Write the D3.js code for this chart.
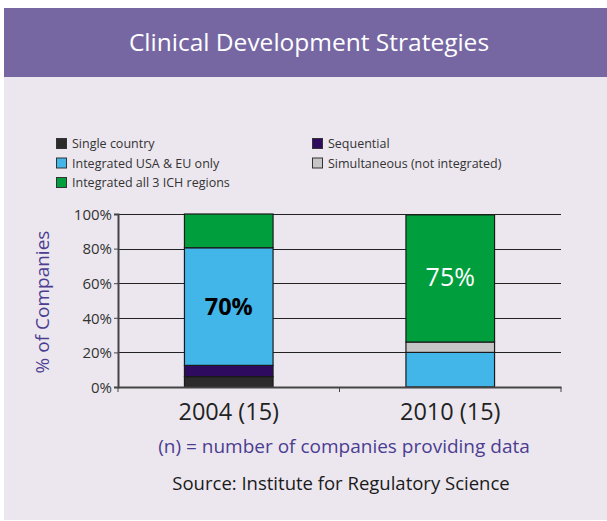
<!DOCTYPE html>
<html>
<head>
<meta charset="utf-8">
<script src="https://cdn.jsdelivr.net/npm/d3@7"></script>
<style>
  body { margin: 0; background: #fff; }
  svg text { font-family: "Open Sans", sans-serif; }
</style>
</head>
<body>
<div id="chart"></div>
<script>
// data (percent of companies)
var years = ["2004 (15)", "2010 (15)"];
var seriesNames = ["Single country", "Sequential", "Integrated USA & EU only",
                   "Simultaneous (not integrated)", "Integrated all 3 ICH regions"];
var seriesColors = ["#2b2b2b", "#2e0b5f", "#42b5e9", "#c6c6c6", "#009e3d"];
var single = [6, 0];
var sequential = [6.5, 0];
var usaEu = [68, 20];
var simultaneous = [0, 6];
var ich = [19.5, 73.5];
var barLabels = ["70%", "75%"];
var labelSeries = [2, 4];
var yTicks = [0, 20, 40, 60, 80, 100];

// legend layout order (two columns)
var legendOrder = [
  {i: 0, col: 0, row: 0}, {i: 2, col: 0, row: 1}, {i: 4, col: 0, row: 2},
  {i: 1, col: 1, row: 0}, {i: 3, col: 1, row: 1}
];

var W = 607, H = 521;
var svg = d3.select("#chart").append("svg")
    .attr("width", W).attr("height", H);

// panel and header band
svg.append("rect").attr("x", 4).attr("y", 8).attr("width", W - 4).attr("height", H - 9)
    .attr("fill", "#ece7ee");
svg.append("rect").attr("x", 4).attr("y", 8).attr("width", W - 4).attr("height", 69)
    .attr("fill", "#7667a3");
svg.append("text")
    .attr("x", 309).attr("y", 51)
    .attr("text-anchor", "middle")
    .attr("fill", "#fff")
    .style("font-size", "24.5px")
    .style("font-weight", 500)
    .text("Clinical Development Strategies");

// legend
var legend = svg.append("g").attr("transform", "translate(56,138)");
legendOrder.forEach(function(l) {
  var g = legend.append("g")
      .attr("transform", "translate(" + (l.col * 256) + "," + (l.row * 19.5) + ")");
  g.append("rect").attr("x", 0.5).attr("y", 0.5).attr("width", 10).attr("height", 10)
      .attr("fill", seriesColors[l.i]).attr("stroke", "#333").attr("stroke-width", 1);
  g.append("text").attr("x", 16).attr("y", 10)
      .attr("fill", "#333").style("font-size", "12.5px")
      .text(seriesNames[l.i]);
});

// plot area
var margin = {left: 118, right: 561, top: 214, bottom: 387};

var x = d3.scaleBand()
    .domain(years)
    .range([margin.left, margin.right])
    .padding(0);

var y = d3.scaleLinear()
    .domain([0, 100])
    .range([margin.bottom, margin.top]);

// gridlines
svg.append("g")
    .selectAll("line")
    .data(yTicks.slice(1))
    .enter().append("line")
    .attr("x1", margin.left).attr("x2", margin.right)
    .attr("y1", function(d) { return Math.round(y(d)) + 0.5; })
    .attr("y2", function(d) { return Math.round(y(d)) + 0.5; })
    .attr("stroke", "#222").attr("stroke-width", 1);

// stacked bars
var rows = years.map(function(yr, k) {
  return {year: yr, s0: single[k], s1: sequential[k], s2: usaEu[k], s3: simultaneous[k], s4: ich[k]};
});
var stack = d3.stack().keys(["s0", "s1", "s2", "s3", "s4"]);
var layers = stack(rows);

var bw = x.bandwidth() * 0.4;
svg.append("g")
    .selectAll("g")
    .data(layers)
    .enter().append("g")
    .attr("fill", function(d, i) { return seriesColors[i]; })
  .selectAll("rect")
    .data(function(d) { return d.filter(function(p) { return p[1] - p[0] > 0; }); })
    .enter().append("rect")
    .attr("x", function(d) { return x(d.data.year) + (x.bandwidth() - bw) / 2; })
    .attr("y", function(d) { return y(d[1]); })
    .attr("width", bw)
    .attr("height", function(d) { return y(d[0]) - y(d[1]); })
    .attr("stroke", "#1a1a1a").attr("stroke-width", 1.2);

// bar value labels
years.forEach(function(yr, k) {
  var layer = layers[labelSeries[k]][k];
  svg.append("text")
      .attr("x", x(yr) + x.bandwidth() / 2)
      .attr("y", (y(layer[0]) + y(layer[1])) / 2 + 8)
      .attr("text-anchor", "middle")
      .attr("fill", k === 0 ? "#000" : "#fff")
      .style("font-size", k === 0 ? "23.5px" : "25px")
      .style("font-weight", k === 0 ? 700 : 400)
      .text(barLabels[k]);
});

// y axis
var yAxis = svg.append("g")
    .attr("transform", "translate(" + margin.left + ",0)")
    .call(d3.axisLeft(y).tickValues(yTicks).tickSize(4)
          .tickFormat(function(d) { return d + "%"; }));
yAxis.select(".domain").attr("stroke", "#444").attr("stroke-width", 2);
yAxis.selectAll(".tick line").attr("stroke", "#444");
yAxis.selectAll(".tick text")
    .attr("fill", "#333").attr("x", -6).attr("dy", "0.35em")
    .style("font-size", "15px").style("font-family", "'Open Sans', sans-serif");

// x axis
var xAxis = svg.append("g")
    .attr("transform", "translate(0," + margin.bottom + ")")
    .call(d3.axisBottom(x).tickSize(0).tickPadding(16));
xAxis.select(".domain").attr("stroke", "#444").attr("stroke-width", 2);
xAxis.selectAll(".tick text")
    .attr("fill", "#222")
    .style("font-size", "23.5px").style("font-family", "'Open Sans', sans-serif");
// tick marks between categories
xAxis.selectAll(".sep")
    .data([margin.left, (margin.left + margin.right) / 2, margin.right])
    .enter().append("line")
    .attr("x1", function(d) { return d; }).attr("x2", function(d) { return d; })
    .attr("y1", 0).attr("y2", 5)
    .attr("stroke", "#444");

// y axis title
svg.append("text")
    .attr("transform", "translate(49,302) rotate(-90)")
    .attr("text-anchor", "middle")
    .attr("fill", "#4b3d91")
    .style("font-size", "19px")
    .text("% of Companies");

// notes
svg.append("text")
    .attr("x", 344).attr("y", 453)
    .attr("text-anchor", "middle")
    .attr("fill", "#4b3d91")
    .style("font-size", "19px")
    .text("(n) = number of companies providing data");

svg.append("text")
    .attr("x", 341).attr("y", 490)
    .attr("text-anchor", "middle")
    .attr("fill", "#1a1a1a")
    .style("font-size", "18.5px")
    .text("Source: Institute for Regulatory Science");
</script>
</body>
</html>
